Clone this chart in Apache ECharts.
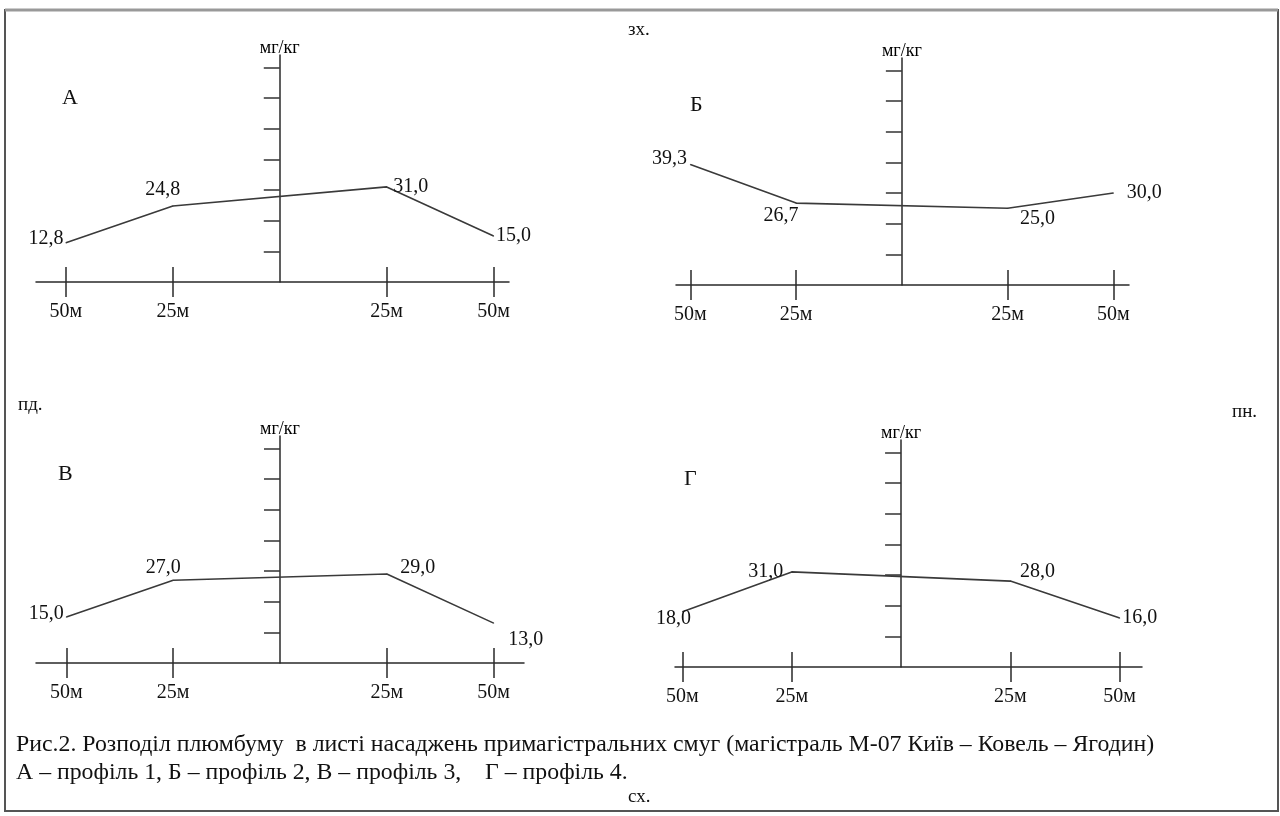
<!DOCTYPE html>
<html>
<head>
<meta charset="utf-8">
<script src="https://cdn.jsdelivr.net/npm/echarts@6/dist/echarts.min.js"></script>
<style>
  html, body { margin: 0; padding: 0; background: #fff; }
  #chart { width: 1280px; height: 816px; }
</style>
</head>
<body>
<div id="chart"></div>
<script>
// відстані від осі, м
var distances = [-50, -25, 25, 50];
var xTicks = [-50, -25, 25, 50];
var yTicks = [10, 20, 30, 40, 50, 60, 70];

// вміст плюмбуму, мг/кг
var profileA = [12.8, 24.8, 31.0, 15.0];
var profileB = [39.3, 26.7, 25.0, 30.0];
var profileV = [15.0, 27.0, 29.0, 13.0];
var profileG = [18.0, 31.0, 28.0, 16.0];

var panelNames = ['А', 'Б', 'В', 'Г'];

// розміщення панелей
var grids = [
    {left: 36, top: 55, width: 473, height: 227, xmin: -57, xmax: 53.6},
    {left: 676, top: 58, width: 453, height: 227, xmin: -53.4, xmax: 53.7},
    {left: 36, top: 436, width: 488, height: 227, xmin: -57.1, xmax: 57.1},
    {left: 675, top: 440, width: 467, height: 227, xmin: -51.7, xmax: 55.1}
];

// підписи значень
var labelPos = [
    [{position: 'left', distance: 2, offset: [0, -4]}, {position: 'top', distance: 6, offset: [-10, 0]},
     {position: 'right', distance: 6}, {position: 'right', distance: 2}],
    [{position: 'left', distance: 3, offset: [0, -6]}, {position: 'bottom', distance: 2, offset: [-15, 0]},
     {position: 'bottom', distance: 0, offset: [30, 0]}, {position: 'right', distance: 13}],
    [{position: 'left', distance: 2, offset: [0, -3]}, {position: 'top', distance: 2, offset: [-10, 0]},
     {position: 'right', distance: 13, offset: [0, -6]}, {position: 'right', distance: 14, offset: [0, 17]}],
    [{position: 'left', distance: 0, offset: [9, 7]}, {position: 'left', distance: 8},
     {position: 'right', distance: 9, offset: [0, -9]}, {position: 'right', distance: 2}]
];

var profiles = [profileA, profileB, profileV, profileG];
var FONT = '"Liberation Serif", "Times New Roman", serif';
var axisColor = '#2a2a2a';

var option = {
    backgroundColor: '#fff',
    animation: false,
    textStyle: {fontFamily: FONT},
    grid: [],
    xAxis: [],
    yAxis: [],
    series: [],
    graphic: []
};

grids.forEach(function (g, i) {
    option.grid.push({left: g.left, top: g.top, width: g.width, height: g.height});
    // основна вісь x
    option.xAxis.push({
        type: 'value', gridIndex: i, min: g.xmin, max: g.xmax, position: 'bottom',
        axisLine: {onZero: false, lineStyle: {color: axisColor, width: 1.5}},
        axisTick: {show: true, customValues: xTicks, length: 15, lineStyle: {color: axisColor, width: 1.5}},
        axisLabel: {customValues: xTicks, margin: 20, color: '#111', fontSize: 20, fontFamily: FONT,
            formatter: function (v) { return Math.abs(v) + 'м'; }},
        splitLine: {show: false}
    });
    // друга вісь x — ті самі поділки всередину
    option.xAxis.push({
        type: 'value', gridIndex: i, min: g.xmin, max: g.xmax, position: 'bottom',
        axisLine: {show: false, onZero: false},
        axisTick: {show: true, inside: true, customValues: xTicks, length: 15, lineStyle: {color: axisColor, width: 1.5}},
        axisLabel: {show: false},
        splitLine: {show: false}
    });
    option.yAxis.push({
        type: 'value', gridIndex: i, min: 0, max: 74,
        name: 'мг/кг', nameLocation: 'end', nameGap: -2,
        nameTextStyle: {color: '#000', fontSize: 18, fontFamily: FONT, align: 'center'},
        axisLine: {onZero: true, onZeroAxisIndex: i * 2, lineStyle: {color: axisColor, width: 1.5}},
        axisTick: {show: true, customValues: yTicks, length: 14, lineStyle: {color: '#333', width: 1.5}},
        axisLabel: {show: false},
        splitLine: {show: false}
    });
    option.yAxis.push({
        type: 'value', gridIndex: i, min: 0, max: 74,
        axisLine: {show: false, onZero: true, onZeroAxisIndex: i * 2 + 1},
        axisTick: {show: true, inside: true, customValues: yTicks, length: 16, lineStyle: {color: '#333', width: 1.5}},
        axisLabel: {show: false},
        splitLine: {show: false}
    });

    var vals = profiles[i];
    option.series.push({
        type: 'line', xAxisIndex: i * 2, yAxisIndex: i * 2,
        symbol: 'circle', symbolSize: 1, showSymbol: true,
        itemStyle: {color: '#3a3a3a'},
        lineStyle: {color: '#3a3a3a', width: 1.6},
        label: {show: true, color: '#111', fontSize: 20, fontFamily: FONT,
            formatter: function (p) { return p.value[1].toFixed(1).replace('.', ','); }},
        data: distances.map(function (d, k) {
            return {value: [d, vals[k]], label: labelPos[i][k]};
        })
    });
});

var txt = function (x, y, s, size, sx) {
    return {
        type: 'text', x: x, y: y, scaleX: sx || 1, z: 10,
        style: {text: s, x: 0, y: 0, fill: '#111', font: size + 'px ' + FONT, verticalAlign: 'middle'}
    };
};

option.graphic = [
    {type: 'rect', shape: {x: 5, y: 10, width: 1273, height: 801},
     style: {fill: 'none', stroke: '#555', lineWidth: 2}, z: 1},
    {type: 'line', shape: {x1: 5, y1: 10, x2: 1278, y2: 10},
     style: {stroke: '#999', lineWidth: 3}, z: 1},
    txt(628, 30, 'зх.', 19),
    txt(18, 405, 'пд.', 19),
    txt(1232, 412, 'пн.', 19),
    txt(628, 797, 'сх.', 19),
    txt(62, 98, panelNames[0], 22),
    txt(690, 105, panelNames[1], 22),
    txt(58, 474, panelNames[2], 22),
    txt(684, 479, panelNames[3], 22),
    txt(16, 745, 'Рис.2. Розподіл плюмбуму  в листі насаджень примагістральних смуг (магістраль М-07 Київ – Ковель – Ягодин)', 23.8),
    txt(16, 773, 'А – профіль 1, Б – профіль 2, В – профіль 3,    Г – профіль 4.', 23.8)
];

var chart = echarts.init(document.getElementById('chart'));
chart.setOption(option);
</script>
</body>
</html>
